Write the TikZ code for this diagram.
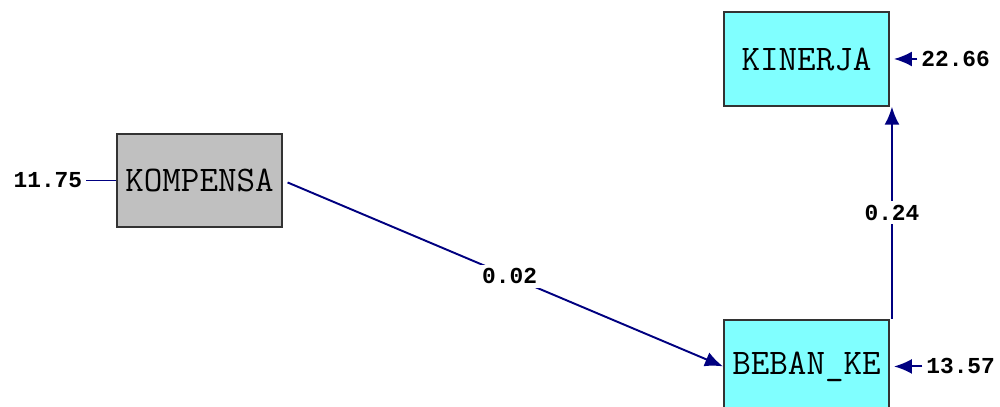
\documentclass[tikz,border=0pt]{standalone}
\usepackage{fontspec}
\newfontfamily\numfont{Liberation Mono}
\newfontfamily\varfont{Latin Modern Mono}
\usepackage{tikz}
\usetikzlibrary{arrows.meta}
\usetikzlibrary{positioning}
\usetikzlibrary{calc}

\definecolor{pathblue}{RGB}{0,0,128}
\definecolor{latentcyan}{RGB}{128,255,255}
\definecolor{obsgray}{RGB}{192,192,192}

\begin{document}
\begin{tikzpicture}[
  var/.style={
    draw=black!80,
    line width=1.1pt,
    minimum width=3.3cm,
    minimum height=1.87cm,
    inner sep=0pt,
    align=center,
    font=\varfont\fontsize{20.5}{22}\selectfont
  },
  errval/.style={
    inner sep=2pt,
    text=black,
    font=\numfont\bfseries\fontsize{13}{15}\selectfont
  },
  coef/.style={
    fill=white,
    inner sep=2pt,
    text=black,
    font=\numfont\bfseries\fontsize{13}{15}\selectfont
  },
  arrow/.style={-{Latex[length=3.6mm,width=3mm]}, line width=1.1pt, pathblue}
]
\useasboundingbox (0,0) rectangle (20,8.14);

\node[var, fill=obsgray] (kompensa) at (3.99,4.53) {KOMPENSA};
\node[var, fill=latentcyan] (kinerja) at (16.13,6.96) {KINERJA};
\node[var, fill=latentcyan, below=4.24cm of kinerja] (beban) {BEBAN\_KE};

% error variances
\node[errval, left=0.6cm of kompensa] (e1) {11.75};
\draw[line width=1.1pt, pathblue] (e1) -- (kompensa);

\node[errval, right=0.55cm of kinerja] (e2) {22.66};
\draw[arrow, shorten >=0.08cm] (e2) -- (kinerja);

\node[errval, right=0.65cm of beban] (e3) {13.57};
\draw[arrow, shorten >=0.08cm] (e3) -- (beban);

% paths
\draw[arrow, shorten <=0.1cm] (kompensa.east) -- (beban.west)
  node[coef, pos=0.515] {0.02};
\draw[arrow] ([xshift=0.04cm]beban.north east) -- ([xshift=0.04cm]kinerja.south east)
  node[coef, pos=0.5] {0.24};

\end{tikzpicture}
\end{document}
